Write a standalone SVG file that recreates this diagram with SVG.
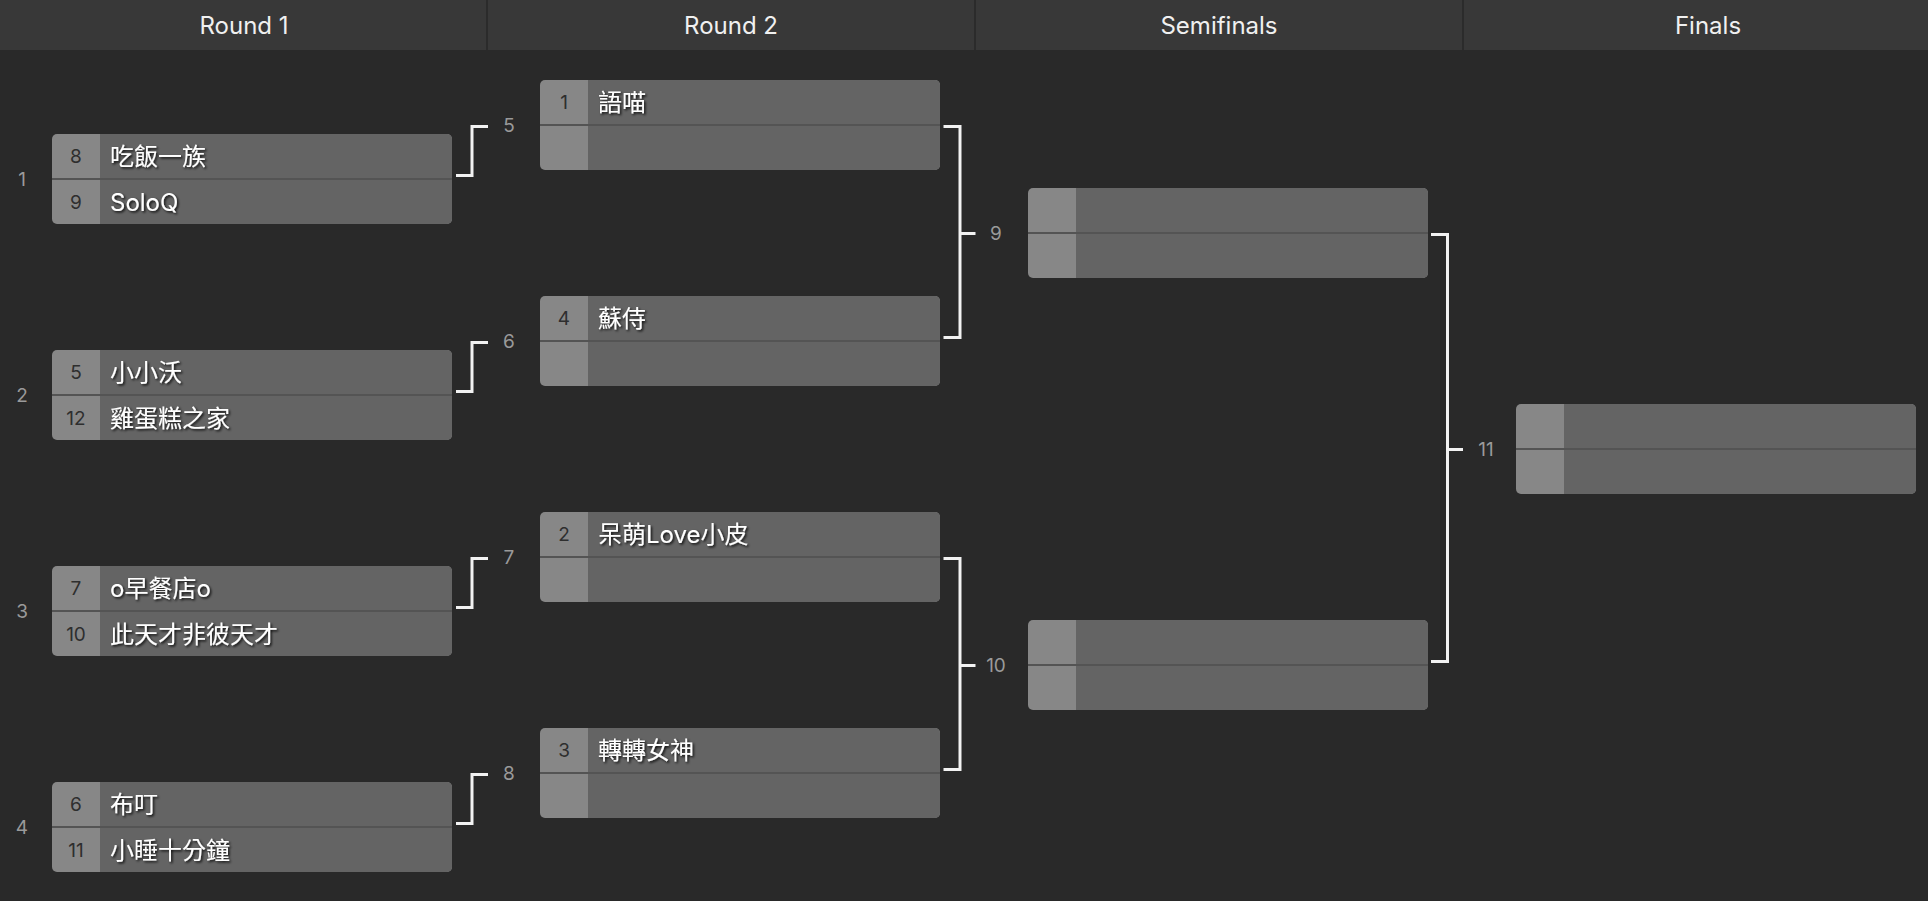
<svg xmlns="http://www.w3.org/2000/svg" width="1928" height="901" viewBox="0 0 1928 901">
<style>
.hdr{fill:#383838}
.hdrtxt{font-family:Inter,"Noto Sans CJK TC",sans-serif;font-size:24px;fill:#f0f0f0;text-anchor:middle}
.lbl{font-family:Inter,"Noto Sans CJK TC",sans-serif;font-size:19px;fill:#9a9a9a;text-anchor:middle}
.seed{font-family:Inter,"Noto Sans CJK TC",sans-serif;font-size:19px;fill:#2e2e2e;text-anchor:middle}
.team{font-family:Inter,"Noto Sans CJK TC",sans-serif;font-size:24px;fill:#ffffff;filter:url(#ts)}
.conn{fill:none;stroke:#f2f2f2;stroke-width:3;stroke-linejoin:miter;stroke-linecap:butt}
</style>
<defs>
<filter id="ts" x="-10%" y="-30%" width="130%" height="170%">
<feDropShadow dx="1.5" dy="1.5" stdDeviation="1" flood-color="#000" flood-opacity="0.85"/>
</filter>
<symbol id="match" width="400" height="90" viewBox="0 0 400 90" overflow="visible">
<rect x="0" y="0" width="400" height="90" rx="5" fill="#878787"/>
<path d="M48,0 H395 A5,5 0 0 1 400,5 V85 A5,5 0 0 1 395,90 H48 Z" fill="#646464"/>
<rect x="0" y="44" width="400" height="2" fill="#545454"/>
</symbol>
</defs>
<rect x="0" y="0" width="1928" height="901" fill="#292929"/>
<g id="header">
<rect class="hdr" x="0" y="0" width="1928" height="50"/>
<rect x="486" y="0" width="2" height="50" fill="#2b2b2b"/>
<rect x="974" y="0" width="2" height="50" fill="#2b2b2b"/>
<rect x="1462" y="0" width="2" height="50" fill="#2b2b2b"/>
<text class="hdrtxt" x="244" y="34">Round 1</text>
<text class="hdrtxt" x="731" y="34">Round 2</text>
<text class="hdrtxt" x="1219" y="34">Semifinals</text>
<text class="hdrtxt" x="1708" y="34">Finals</text>
</g>
<g id="connectors">
<path class="conn" d="M456,175.5 H472 V126.5 H488"/>
<path class="conn" d="M456,391.5 H472 V342.5 H488"/>
<path class="conn" d="M456,607.5 H472 V558.5 H488"/>
<path class="conn" d="M456,823.5 H472 V774.5 H488"/>
<path class="conn" d="M943.5,126.5 H960 V337.5 H943.5 M960,233.5 H975.5"/>
<path class="conn" d="M943.5,558.5 H960 V769.5 H943.5 M960,665.5 H975.5"/>
<path class="conn" d="M1431,234.5 H1447.5 V661.5 H1431 M1447.5,449.5 H1463"/>
</g>
<g id="m1">
<text class="lbl" x="22" y="186">1</text>
<use href="#match" x="52" y="134"/>
<text class="seed" x="76" y="163">8</text><text class="team" x="110" y="164.5">吃飯一族</text>
<text class="seed" x="76" y="209">9</text><text class="team" x="110" y="210.5">SoloQ</text>
</g>
<g id="m2">
<text class="lbl" x="22" y="402">2</text>
<use href="#match" x="52" y="350"/>
<text class="seed" x="76" y="379">5</text><text class="team" x="110" y="380.5">小小沃</text>
<text class="seed" x="76" y="425">12</text><text class="team" x="110" y="426.5">雞蛋糕之家</text>
</g>
<g id="m3">
<text class="lbl" x="22" y="618">3</text>
<use href="#match" x="52" y="566"/>
<text class="seed" x="76" y="595">7</text><text class="team" x="110" y="596.5">o早餐店o</text>
<text class="seed" x="76" y="641">10</text><text class="team" x="110" y="642.5">此天才非彼天才</text>
</g>
<g id="m4">
<text class="lbl" x="22" y="834">4</text>
<use href="#match" x="52" y="782"/>
<text class="seed" x="76" y="811">6</text><text class="team" x="110" y="812.5">布叮</text>
<text class="seed" x="76" y="857">11</text><text class="team" x="110" y="858.5">小睡十分鐘</text>
</g>
<g id="m5">
<text class="lbl" x="509" y="132">5</text>
<use href="#match" x="540" y="80"/>
<text class="seed" x="564" y="109">1</text><text class="team" x="598" y="110.5">語喵</text>
</g>
<g id="m6">
<text class="lbl" x="509" y="348">6</text>
<use href="#match" x="540" y="296"/>
<text class="seed" x="564" y="325">4</text><text class="team" x="598" y="326.5">蘇侍</text>
</g>
<g id="m7">
<text class="lbl" x="509" y="564">7</text>
<use href="#match" x="540" y="512"/>
<text class="seed" x="564" y="541">2</text><text class="team" x="598" y="542.5">呆萌Love小皮</text>
</g>
<g id="m8">
<text class="lbl" x="509" y="780">8</text>
<use href="#match" x="540" y="728"/>
<text class="seed" x="564" y="757">3</text><text class="team" x="598" y="758.5">轉轉女神</text>
</g>
<g id="m9">
<text class="lbl" x="996" y="240">9</text>
<use href="#match" x="1028" y="188"/>
</g>
<g id="m10">
<text class="lbl" x="996" y="672">10</text>
<use href="#match" x="1028" y="620"/>
</g>
<g id="m11">
<text class="lbl" x="1486" y="456">11</text>
<use href="#match" x="1516" y="404"/>
</g>
</svg>
